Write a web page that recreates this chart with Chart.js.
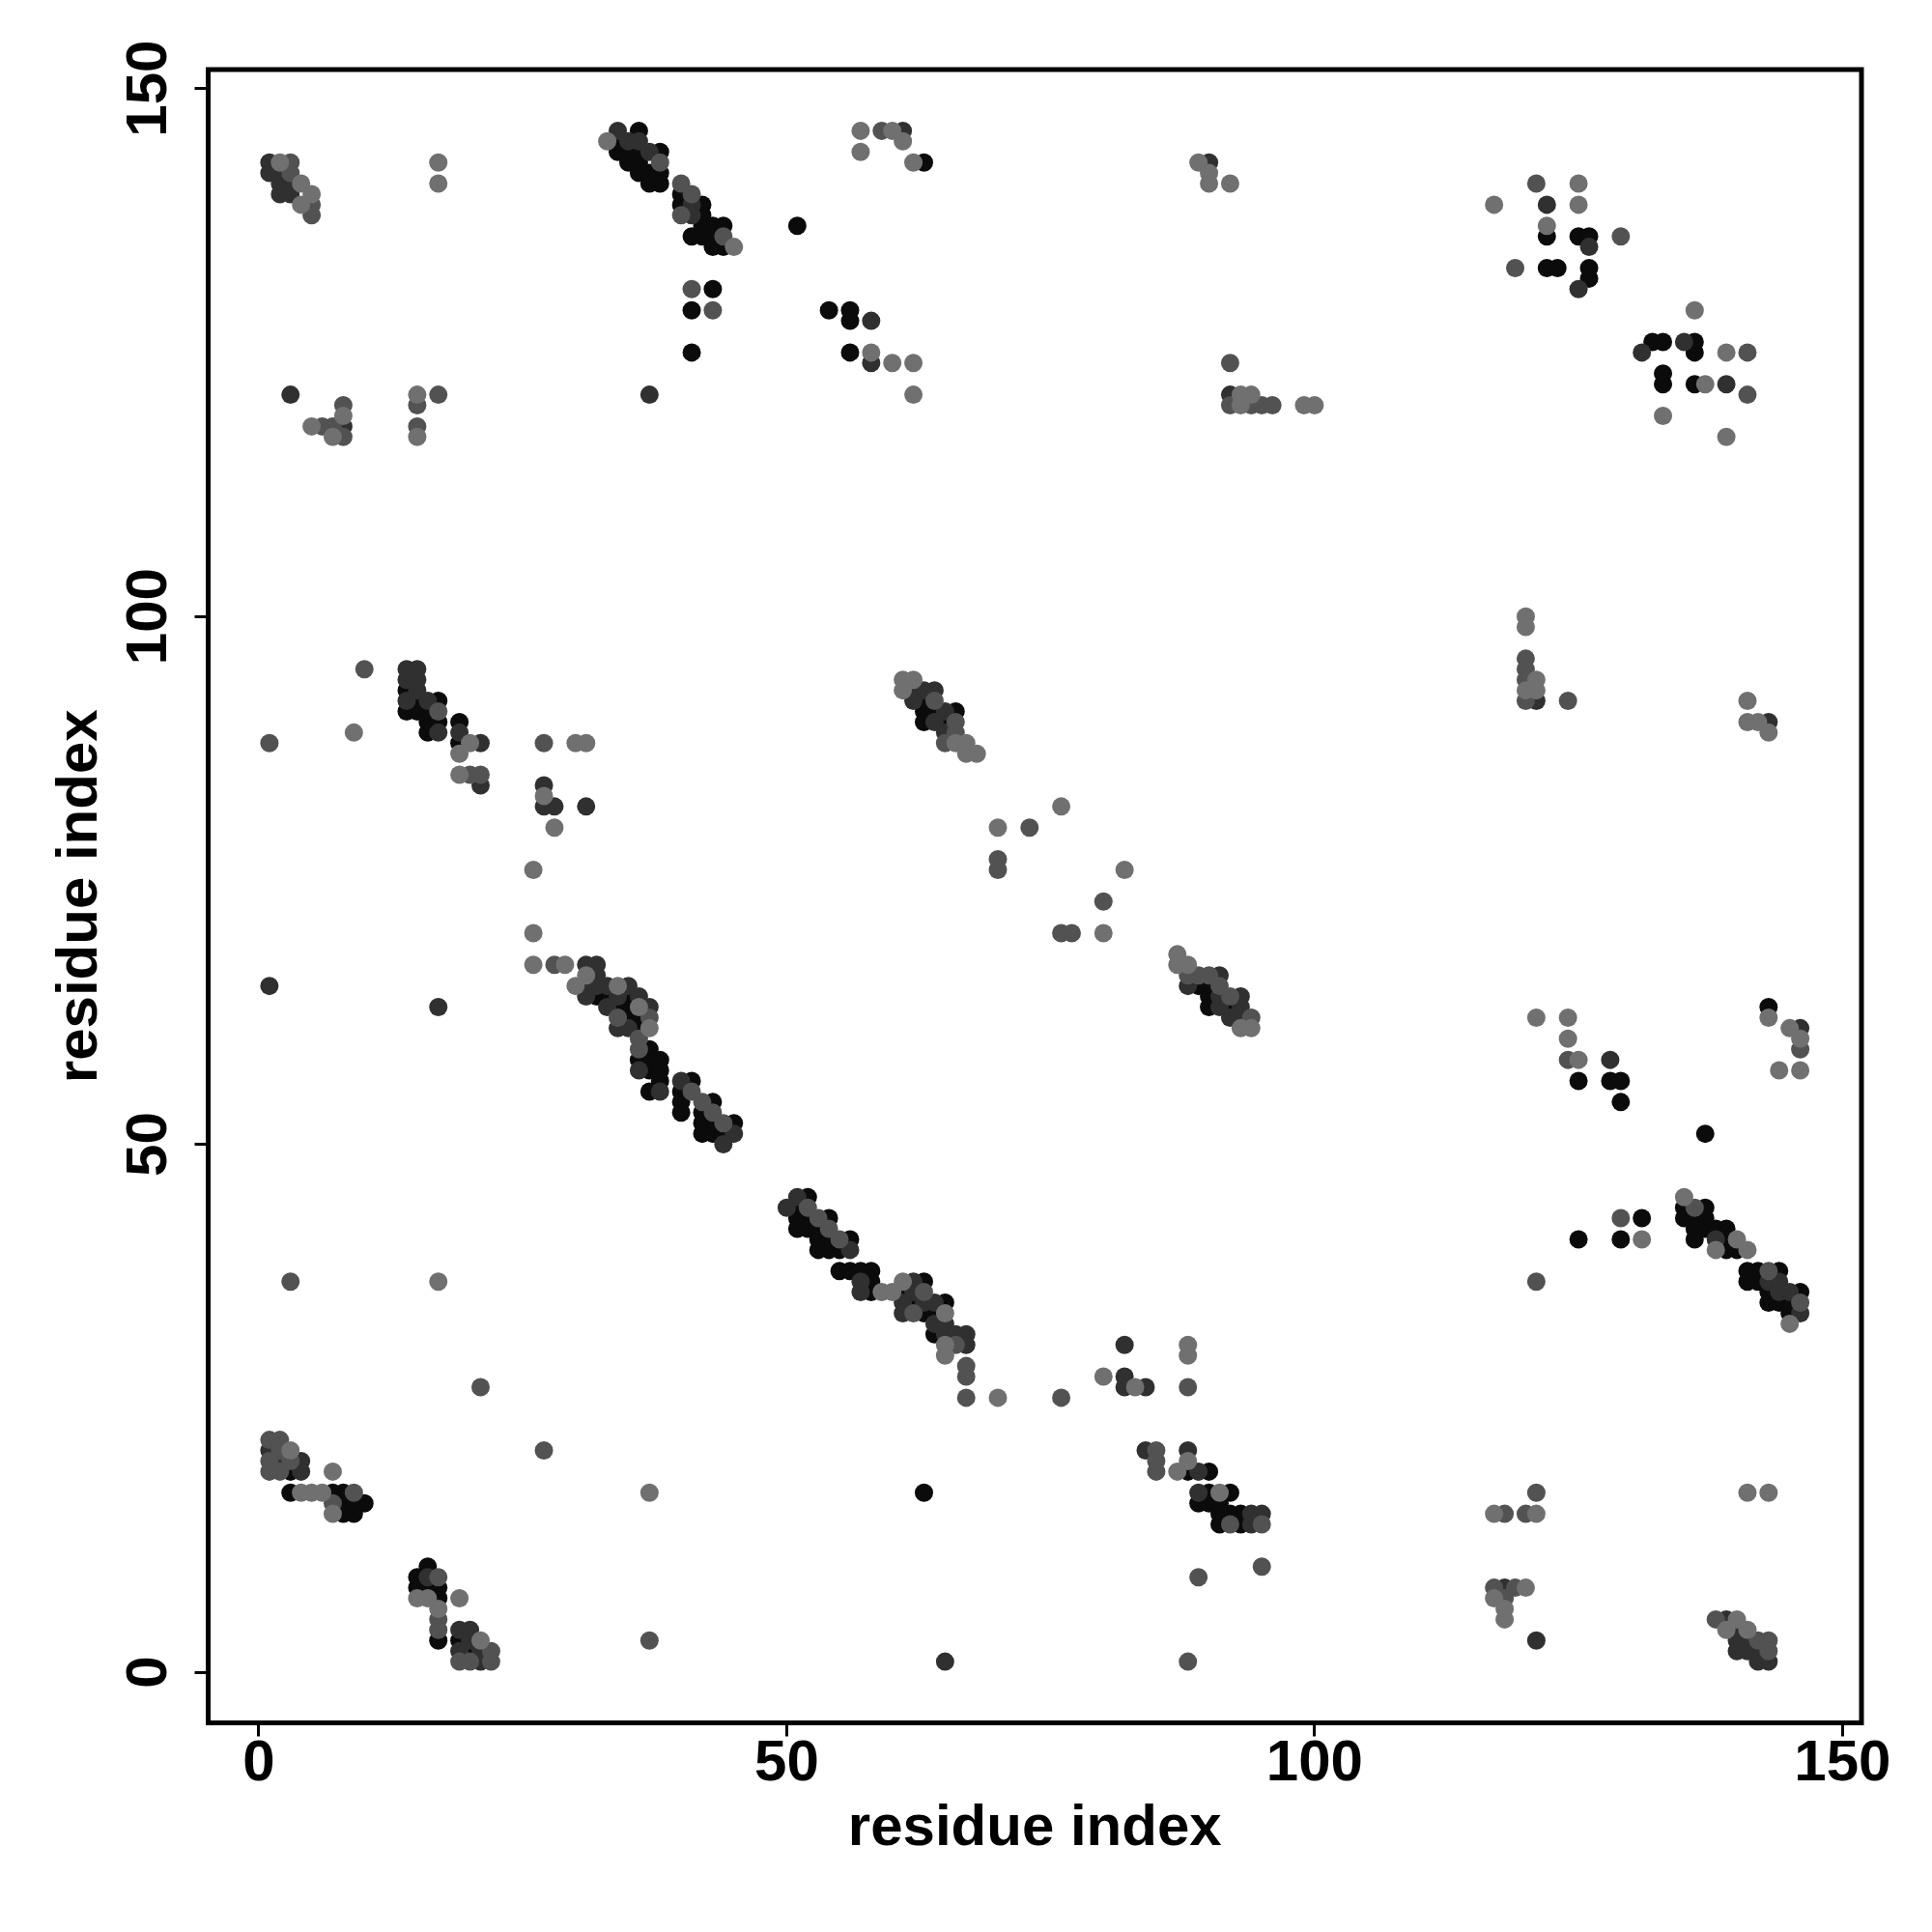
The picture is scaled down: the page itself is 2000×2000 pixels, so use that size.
<!DOCTYPE html>
<html>
<head>
<meta charset="utf-8">
<script src="https://cdn.jsdelivr.net/npm/chart.js@4/dist/chart.umd.min.js"></script>
<style>
  html, body { margin: 0; padding: 0; background: #fff; }
  #wrap { width: 2000px; height: 2000px; position: relative; }
</style>
</head>
<body>
<div id="wrap"><canvas id="map"></canvas></div>
<script>
// contact map: residue pairs, grouped by shade (light -> black)
const axisMin = -4.8;
const axisMax = 151.8;
const xTicks = [0, 50, 100, 150];
const yTicks = [0, 50, 100, 150];
const axisTitle = 'residue index';

const lightPts = [
  [2,143],[4,141],[5,140],[4,139],[17,143],[17,141],[33,145],[45,135],
  [57,146],[57,144],[60,146],[61,145],[62,143],[58,125],[60,124],[62,124],[62,121],
  [89,143],[90,142],[90,141],[92,141],[117,139],[93,121],[94,121],[93,120],[99,120],[100,120],
  [125,141],[125,139],[122,137],[136,129],[139,125],[137,122],[133,119],[139,117],
  [120,100],[120,99],[5,118],[7,117],[8,119],[15,121],[15,117],
  [9,89],[20,88],[19,87],[19,85],[30,88],[31,88],[27,83],[28,80],[26,76],[26,70],[26,67],[29,67],
  [31,66],[30,65],[34,65],[36,63],[37,61],
  [61,94],[62,94],[61,93],[66,88],[67,88],[67,87],[68,87],[70,80],[76,82],
  [82,76],[80,70],[87,68],[87,67],[88,67],[93,61],[94,61],
  [121,94],[120,93],[121,93],[141,92],[141,90],[142,90],[143,89],
  [143,62],[145,61],[146,60],[144,57],[146,57],[121,62],[124,62],[124,60],[125,58],
  [17,37],[37,17],[3,21],[7,19],[4,17],[5,17],[6,17],[7,15],[15,7],[16,7],[19,7],[17,6],[21,3],
  [59,36],[60,36],[61,37],[65,34],[65,31],[65,30],[70,26],
  [88,31],[88,30],[80,28],[83,27],[88,20],[87,19],[91,17],
  [117,15],[121,15],[120,8],[117,7],[118,6],[118,5],
  [131,41],[135,45],[140,41],[138,40],[141,40],[145,33],[141,17],[143,17],
  [140,5],[139,4],[141,4]
];

const midPts = [
  [3,143],[3,142],[5,139],[5,138],[38,143],[40,141],[41,140],[40,138],[44,136],
  [41,131],[43,129],[59,146],
  [92,124],[92,120],[94,120],[95,120],[96,120],
  [121,141],[129,136],[119,133],[141,125],[141,121],
  [6,118],[7,118],[8,120],[8,117],[17,121],[15,120],[15,118],
  [10,95],[1,88],[17,91],[20,85],[21,85],[27,88],[28,67],
  [34,62],[37,62],[36,60],[36,59],[41,55],[42,54],[43,53],[44,52],
  [64,92],[66,90],[66,89],[65,88],[73,80],[70,77],[70,76],[76,70],[77,70],
  [80,73],[88,66],[89,66],[90,66],[91,65],[92,64],[94,62],
  [120,96],[120,95],[120,94],[120,92],[124,92],[146,59],[124,58],
  [3,37],[21,27],[27,21],[37,3],
  [1,22],[2,22],[2,21],[1,20],[3,20],[1,19],[2,19],[9,17],[7,16],[17,9],[17,5],[17,4],[22,2],[19,1],[20,1],[22,1],
  [52,44],[53,43],[54,42],[55,41],[63,36],[62,34],[66,31],[67,29],[67,28],[67,26],[76,26],
  [88,27],[85,21],[85,20],[85,19],[92,14],[95,14],[89,9],[95,10],[88,1],
  [118,15],[120,15],[121,17],[117,8],[119,8],[118,7],
  [121,37],[129,43],[136,44],[143,38],[146,35],
  [138,5],[142,3],[143,3],[143,2]
];

const darkPts = [
  [1,143],[1,142],[2,142],[2,141],[3,141],[2,140],[3,140],
  [34,146],[35,145],[36,145],[37,144],[41,139],[41,138],[37,121],
  [61,146],[58,128],[58,124],
  [90,143],[92,121],
  [122,139],[126,135],[125,131],[131,125],[135,126],[139,122],
  [3,121],[8,118],
  [14,95],[15,95],[14,94],[15,94],[15,93],[14,92],[16,92],[17,89],
  [19,89],[21,88],[21,84],[27,84],[27,82],[28,82],[31,82],
  [31,67],[32,67],[32,66],[31,65],[32,65],[33,65],[35,65],[31,64],[34,64],[36,64],
  [33,63],[37,63],[34,61],[35,61],[36,57],[38,55],[40,56],[45,51],[44,50],
  [17,63],[1,65],
  [62,93],[63,93],[64,93],[62,92],[65,91],[64,90],[65,89],
  [88,65],[91,66],[91,64],[93,64],[91,63],[93,63],[92,62],[93,62],
  [121,92],[143,90],[146,61],[128,58],
  [1,21],[2,20],[4,20],[4,19],[16,9],[19,4],[20,4],[20,3],[19,2],[21,2],[21,1],
  [50,44],[51,45],[56,40],[57,37],[57,36],
  [62,37],[62,36],[61,35],[63,35],[64,35],[61,34],[64,33],[65,33],[65,32],[66,32],[67,32],[67,31],
  [65,1],
  [82,31],[82,28],[82,27],[84,27],[84,21],[88,21],[89,19],[89,17],[94,15],[95,15],[94,14],
  [118,8],
  [138,41],[143,37],[144,37],[144,36],[145,36],[146,34],[121,3],
  [139,5],[140,4],[140,3],[141,3],[140,2],[141,2],[142,2],[142,1],[143,1]
];

const blackPts = [
  [36,146],[34,145],[34,144],[35,144],[36,144],[35,143],[36,143],[36,142],[37,142],[37,141],
  [38,144],[38,142],[38,141],
  [40,140],[40,139],[42,139],[42,138],[42,137],[43,137],[44,137],[41,136],[42,136],[43,136],
  [43,135],[44,135],
  [43,131],[41,129],[41,125],[51,137],[63,143],
  [54,129],[56,129],[56,128],[56,125],
  [122,136],[125,136],[126,136],[122,133],[123,133],[126,133],[126,132],
  [132,126],[133,126],[136,126],[136,125],[133,123],[133,122],[136,122],
  [14,93],[15,92],[17,92],[14,91],[15,91],[16,91],[16,90],[17,90],[16,89],
  [19,90],[19,88],
  [32,64],[33,64],[35,64],[34,63],[35,63],[35,62],[36,62],[36,61],[37,59],
  [36,58],[37,58],[38,58],[37,57],[38,57],[38,56],[41,56],[37,55],[40,55],
  [40,54],[43,54],[40,53],[42,53],[42,52],[43,52],[45,52],[42,51],[43,51],[44,51],
  [63,92],[63,91],[64,91],[66,91],[63,90],[65,90],
  [89,65],[90,65],[90,64],[90,63],[92,63],
  [143,63],[125,56],[128,56],[129,56],[129,54],[137,51],
  [3,19],[3,17],[7,17],[8,17],[8,16],[9,16],[10,16],[8,15],[9,15],
  [16,10],[15,9],[15,8],[16,8],[17,8],[17,7],[17,3],[19,3],[20,2],
  [52,45],[51,44],[51,43],[52,43],[54,43],[51,42],[52,42],[53,42],[53,41],[54,41],[56,41],
  [53,40],[54,40],[55,40],[55,38],[56,38],[57,38],[58,38],[58,37],[58,36],
  [63,37],[61,36],[62,35],[65,35],[63,34],[64,34],[64,32],
  [63,17],
  [88,19],[90,19],[90,17],[92,17],[89,16],[90,16],[91,16],[91,15],[92,15],[93,15],[91,14],[93,14],
  [125,41],[131,43],[129,41],
  [135,44],[137,44],[135,43],[136,43],[137,43],[136,42],[137,42],[138,42],[139,42],
  [136,41],[139,41],[139,40],[140,40],
  [141,38],[142,38],[144,38],[141,37],[142,37],[143,36],[146,36],[143,35],[144,35],[145,35],[145,34]
];

const shadeColors = ['#707070', '#525252', '#303030', '#0b0b0b'];

const toXY = pts => pts.map(([x, y]) => ({ x, y }));

const FONT = 'bold 60px "Liberation Sans", Arial, Helvetica, sans-serif';

const frameAndText = {
  id: 'frameAndText',
  afterDraw(chart) {
    const { ctx, chartArea: a, scales } = chart;
    ctx.save();
    ctx.strokeStyle = '#000';
    ctx.lineWidth = 5;
    ctx.strokeRect(a.left, a.top, a.right - a.left, a.bottom - a.top);

    ctx.fillStyle = '#000';
    ctx.font = FONT;
    ctx.textBaseline = 'alphabetic';
    ctx.textAlign = 'center';

    xTicks.forEach(v => {
      ctx.fillText(String(v), scales.x.getPixelForValue(v), 1843);
    });
    ctx.fillText(axisTitle, (a.left + a.right) / 2, 1910);

    yTicks.forEach(v => {
      ctx.save();
      ctx.translate(172, scales.y.getPixelForValue(v));
      ctx.rotate(-Math.PI / 2);
      ctx.fillText(String(v), 0, 0);
      ctx.restore();
    });
    ctx.save();
    ctx.translate(100, (a.top + a.bottom) / 2);
    ctx.rotate(-Math.PI / 2);
    ctx.fillText(axisTitle, 0, 0);
    ctx.restore();
    ctx.restore();
  }
};

function axis(ticks, isX) {
  return {
    type: 'linear',
    min: axisMin,
    max: axisMax,
    afterBuildTicks: s => { s.ticks = ticks.map(v => ({ value: v })); },
    afterFit: s => {
      if (isX) s.height = 216.5; else s.width = 215.5;
    },
    ticks: { display: false },
    border: { display: false },
    grid: {
      display: true,
      drawOnChartArea: false,
      drawTicks: true,
      tickLength: 14,
      tickWidth: 3,
      tickColor: '#000'
    }
  };
}

new Chart(document.getElementById('map'), {
  type: 'scatter',
  data: {
    datasets: [lightPts, midPts, darkPts, blackPts].map((pts, i) => ({
      data: toXY(pts),
      backgroundColor: shadeColors[i],
      borderWidth: 0,
      pointRadius: 9.5,
      pointHoverRadius: 9.5
    }))
  },
  options: {
    responsive: true,
    maintainAspectRatio: false,
    animation: false,
    devicePixelRatio: 1,
    layout: { padding: { top: 72, right: 73, left: 0, bottom: 0 } },
    plugins: { legend: { display: false }, tooltip: { enabled: false } },
    scales: { x: axis(xTicks, true), y: axis(yTicks, false) }
  },
  plugins: [frameAndText]
});
</script>
</body>
</html>
